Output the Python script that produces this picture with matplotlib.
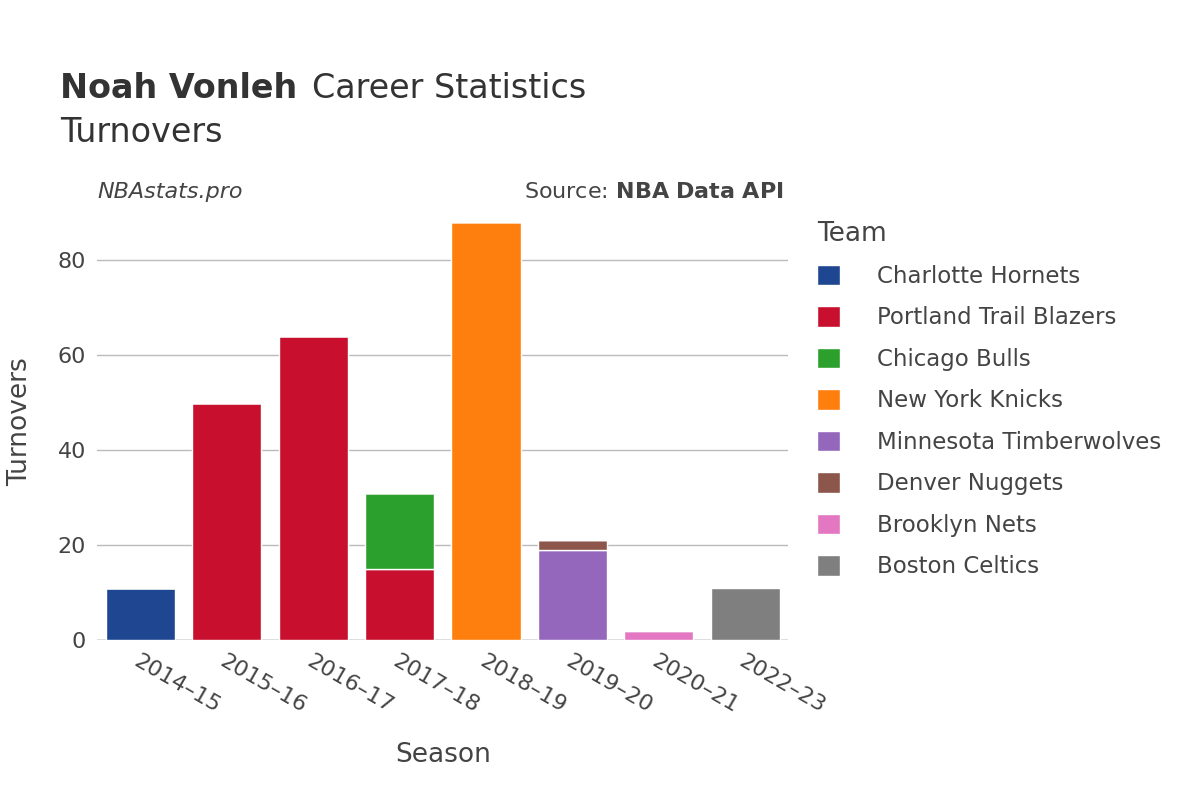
import matplotlib
matplotlib.use("Agg")
import matplotlib.pyplot as plt

seasons = ["2014–15","2015–16","2016–17","2017–18","2018–19","2019–20","2020–21","2022–23"]
teams = ["Charlotte Hornets","Portland Trail Blazers","Chicago Bulls","New York Knicks",
         "Minnesota Timberwolves","Denver Nuggets","Brooklyn Nets","Boston Celtics"]
colors = ["#1f4690","#c8102e","#2ca02c","#ff7f0e","#9467bd","#8c564b","#e377c2","#7f7f7f"]
values = {
    "Charlotte Hornets":      [11,0,0,0,0,0,0,0],
    "Portland Trail Blazers": [0,50,64,15,0,0,0,0],
    "Chicago Bulls":          [0,0,0,16,0,0,0,0],
    "New York Knicks":        [0,0,0,0,88,0,0,0],
    "Minnesota Timberwolves": [0,0,0,0,0,19,0,0],
    "Denver Nuggets":         [0,0,0,0,0,2,0,0],
    "Brooklyn Nets":          [0,0,0,0,0,0,2,0],
    "Boston Celtics":         [0,0,0,0,0,0,0,11],
}

plt.rcParams["font.family"] = "DejaVu Sans"
fig = plt.figure(figsize=(12, 8), dpi=100)
ax = fig.add_axes([0.081, 0.2, 0.576, 0.546])
x = list(range(len(seasons)))
bottom = [0]*len(seasons)
for t, c in zip(teams, colors):
    v = values[t]
    ax.bar(x, v, bottom=bottom, width=0.8, color=c, edgecolor="white", linewidth=1, label=t)
    bottom = [b+vi for b, vi in zip(bottom, v)]

ax.set_xlim(-0.5, len(seasons)-0.5)
ax.set_ylim(0, 92)
ax.set_yticks([0,20,40,60,80])
ax.yaxis.grid(True, color="#bbbbbb", linewidth=1)
ax.set_axisbelow(True)
for s in ax.spines.values():
    s.set_visible(False)
ax.axhline(0, color="#e5e5e5", linewidth=2, zorder=0.5)
ax.tick_params(axis="both", length=0, labelsize=16, colors="#444444", pad=8)
ax.set_xticks(x)
ax.set_xticklabels(seasons, rotation=-30, ha="left", rotation_mode="anchor")
ax.set_xlabel("Season", fontsize=19, color="#444444", labelpad=18)
ax.set_ylabel("Turnovers", fontsize=19, color="#444444", labelpad=18)

fig.text(0.05, 0.889, "Noah Vonleh", fontsize=24, fontweight="bold", color="#333333", va="center")
fig.text(0.26, 0.889, "Career Statistics", fontsize=24, color="#333333", va="center")
fig.text(0.05, 0.835, "Turnovers", fontsize=24, color="#333333", va="center")
fig.text(0.081, 0.76, "NBAstats.pro", fontsize=16, style="italic", color="#444444", va="center")
fig.text(0.653, 0.76, "Source: $\\bf{NBA\\ Data\\ API}$", fontsize=16, color="#444444", va="center", ha="right")

leg = fig.legend(loc="upper left", bbox_to_anchor=(0.664, 0.75), frameon=False,
                 fontsize=16.5, title="Team", title_fontsize=19, handlelength=1, handleheight=1,
                 labelspacing=0.8, handletextpad=1.6)
leg._legend_box.align = "left"
for txt in leg.get_texts():
    txt.set_color("#444444")
leg.get_title().set_color("#444444")
fig.savefig("out.png")
